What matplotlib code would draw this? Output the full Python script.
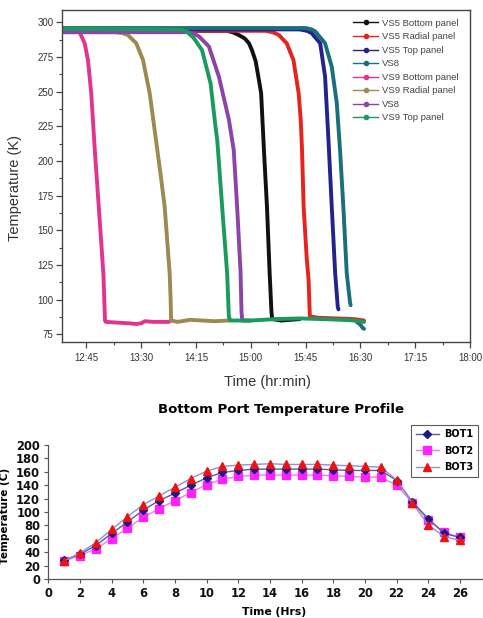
import matplotlib
matplotlib.use("Agg")
import matplotlib.pyplot as plt
import numpy as np
from matplotlib.lines import Line2D
from matplotlib.ticker import FixedLocator, FuncFormatter

# ---------------- Top chart data (time "HH:MM(.m)", temperature K) ----------------
vs5_bottom_t = ["12:25", "14:40", "14:45", "14:50", "14:55", "14:58.5", "15:01", "15:04", "15:06", "15:08.5",
                "15:10.8", "15:13.3", "15:15.5", "15:17", "15:17.6", "15:25", "15:40"]
vs5_bottom_v = [294, 294, 293, 291, 288.5, 285, 280, 272, 262, 249, 208, 167, 119, 91, 86, 85, 86]

vs5_radial_t = ["12:25", "15:12", "15:18", "15:23", "15:29.5", "15:35", "15:39.3", "15:41", "15:42", "15:43.4",
                "15:46", "15:47.5", "15:48", "15:48.5", "15:55", "16:10", "16:25", "16:33"]
vs5_radial_v = [294, 294, 293, 291, 285, 273, 249, 230, 210, 167, 129, 114, 100, 88, 87, 86.5, 86, 85]

vs5_top_t = ["12:25", "15:40", "15:46", "15:50", "15:57", "16:01", "16:03.8", "16:06.5", "16:09.3", "16:11.4", "16:12"]
vs5_top_v = [295, 295, 294, 292.3, 285, 261, 215, 167, 119, 95, 93]

vs8a_t = ["12:25", "15:45", "15:50", "15:53", "16:01", "16:06.5", "16:10.6", "16:13.3", "16:16", "16:18.8",
          "16:21.5", "16:22", "16:25", "16:27", "16:30", "16:32", "16:33"]
vs8a_v = [296, 296, 295, 293.5, 285, 268, 242, 208, 167, 119, 98, 96, np.nan, 84, 82, 79.5, 79]

vs9_bottom_t = ["12:25", "12:36", "12:39.5", "12:43.6", "12:46.3", "12:49", "12:52", "12:56.7", "12:59", "12:59.8",
                "13:00.3", "13:01", "13:10", "13:20", "13:26", "13:30", "13:33", "13:40", "13:53"]
vs9_bottom_v = [294, 294, 293, 285, 273, 249, 207, 148, 118, 98, 85, 84, 83.5, 83, 82.5, 83, 84.5, 84, 84]

vs9_radial_t = ["12:25", "13:08", "13:14", "13:19", "13:26", "13:31.5", "13:37", "13:42.5", "13:46", "13:49.3",
                "13:53.4", "13:54.2", "13:54.6", "14:00", "14:10", "14:20", "14:30", "14:42"]
vs9_radial_v = [293, 293, 292.5, 291, 285, 273, 249, 213, 190, 167, 119, 100, 85, 84, 85.5, 85, 84.5, 85]

vs8b_t = ["12:25", "14:08", "14:13", "14:17.4", "14:25.6", "14:33.8", "14:42", "14:46", "14:48.8", "14:51.6",
          "14:52.4", "14:53", "15:00"]
vs8b_v = [293, 293, 292, 290, 282.7, 261, 230, 208, 167, 120, 91, 85, 85]

vs9_top_t = ["12:25", "14:03", "14:08", "14:13", "14:20", "14:27", "14:31", "14:32.5", "14:36.5", "14:40.6",
             "14:42", "14:43", "15:00", "15:20", "15:40", "16:00", "16:15", "16:25", "16:33"]
vs9_top_v = [295.5, 295, 293, 289, 280, 256, 225, 215, 167, 119, 88, 85, 85, 86, 86.5, 86, 85.5, 85, 84]

top_labels = ["VS5 Bottom panel", "VS5 Radial panel", "VS5 Top panel", "VS8",
              "VS9 Bottom panel", "VS9 Radial panel", "VS8", "VS9 Top panel"]
top_colors = ["#111111", "#e8221e", "#23238c", "#1b6f7c",
              "#e2348f", "#9c8a52", "#8c44a8", "#1a9a5c"]
top_series_t = [vs5_bottom_t, vs5_radial_t, vs5_top_t, vs8a_t, vs9_bottom_t, vs9_radial_t, vs8b_t, vs9_top_t]
top_series_v = [vs5_bottom_v, vs5_radial_v, vs5_top_v, vs8a_v, vs9_bottom_v, vs9_radial_v, vs8b_v, vs9_top_v]

x_tick_labels = ["12:45", "13:30", "14:15", "15:00", "15:45", "16:30", "17:15", "18:00"]
y_ticks_top = [75, 100, 125, 150, 175, 200, 225, 250, 275, 300]

# ---------------- Bottom chart data ----------------
hours = list(range(1, 27))
bot1 = [28, 37, 50, 68, 85, 103, 117, 128, 140, 151, 159, 162, 164, 164, 164, 164, 164, 163, 162, 162, 162,
        147, 115, 90, 68, 62]
bot2 = [27, 35, 45, 60, 76, 92, 105, 117, 129, 141, 149, 153, 155, 155, 155, 155, 155, 154, 153, 152, 152,
        140, 114, 88, 70, 62]
bot3 = [27, 39, 54, 74, 93, 111, 124, 137, 150, 161, 168, 170, 171, 172, 171, 171, 171, 170, 169, 168, 167,
        148, 113, 81, 63, 58]
bot_labels = ["BOT1", "BOT2", "BOT3"]
bot_xticks = list(range(0, 27, 2))


def tmin(s):
    h, m = s.split(":")
    return int(h) * 60 + float(m)


def fmt_time(x, pos=None):
    h = int(x // 60)
    m = int(round(x - h * 60))
    return f"{h}:{m:02d}"


W, H = 483, 618
fig = plt.figure(figsize=(W / 100, H / 100), dpi=100)
plt.rcParams['font.family'] = ['Liberation Sans', 'DejaVu Sans']

# ================= Top chart =================
ax1 = fig.add_axes([62 / W, 1 - 342 / H, 408 / W, 332 / H])
for t, v, c in zip(top_series_t, top_series_v, top_colors):
    ax1.plot([tmin(s) for s in t], v, color=c, lw=2.8, solid_capstyle='round', solid_joinstyle='round')

ax1.set_xlim(tmin("12:25"), tmin("18:00"))
ax1.set_ylim(69.5, 309)
majors = [tmin(s) for s in x_tick_labels]
ax1.xaxis.set_major_locator(FixedLocator(majors))
ax1.xaxis.set_major_formatter(FuncFormatter(fmt_time))
minors = list(np.array(majors[:-1]) + np.diff(majors) / 2) + [majors[0] - (majors[1] - majors[0]) / 2]
ax1.xaxis.set_minor_locator(FixedLocator(minors))
ax1.yaxis.set_major_locator(FixedLocator(y_ticks_top))
ax1.yaxis.set_minor_locator(FixedLocator(list(np.array(y_ticks_top[:-1]) + 12.5)))
ax1.tick_params(which='major', direction='out', length=4, width=0.9, colors='#444444',
                labelsize=7, labelcolor='#333333', pad=2)
ax1.tick_params(which='minor', direction='out', length=2.5, width=0.8, colors='#444444')
ax1.tick_params(axis='x', pad=4)
for sp in ax1.spines.values():
    sp.set_color('#444444')
    sp.set_linewidth(1.0)

handles = [Line2D([0], [0], color=c, lw=1.0, marker='o', markersize=3, markerfacecolor=c, markeredgecolor=c)
           for c in top_colors]
leg = ax1.legend(handles, top_labels, loc='upper left', bbox_to_anchor=(0.705, 0.985), frameon=False,
                 fontsize=6.8, handlelength=2.6, handletextpad=0.4, labelspacing=0.48, borderaxespad=0)
for txt in leg.get_texts():
    txt.set_color('#444444')

fig.text(15 / W, 1 - 188 / H, "Temperature (K)", rotation=90, ha='center', va='center',
         fontsize=10.5, color='#333333')
fig.text(267 / W, 1 - 382 / H, "Time (hr:min)", ha='center', va='center', fontsize=10.5, color='#333333')

# ================= Bottom chart =================
ax2 = fig.add_axes([48.3 / W, 1 - 579 / H, 443.3 / W, 134 / H])
ax2.plot(hours, bot1, color='#5a5aaa', lw=1.0, marker='D', markersize=3.6,
         markerfacecolor='#1a1a80', markeredgecolor='#1a1a80', label=bot_labels[0], zorder=3)
ax2.plot(hours, bot2, color='#e880e8', lw=1.0, marker='s', markersize=5.2,
         markerfacecolor='#ff22ff', markeredgecolor='#ff22ff', label=bot_labels[1], zorder=2)
ax2.plot(hours, bot3, color='#9090d8', lw=1.0, marker='^', markersize=5.2,
         markerfacecolor='#ee1111', markeredgecolor='#ee1111', label=bot_labels[2], zorder=4)
ax2.set_xlim(0, 28)
ax2.set_ylim(0, 200)
ax2.set_xticks(bot_xticks + [28])
ax2.set_xticklabels([str(v) for v in bot_xticks] + [""])
ax2.set_yticks(range(0, 201, 20))
ax2.spines['top'].set_visible(False)
ax2.spines['right'].set_visible(False)
for sp in ('left', 'bottom'):
    ax2.spines[sp].set_color('#555555')
    ax2.spines[sp].set_linewidth(0.9)
ax2.tick_params(direction='out', length=3, width=0.8, colors='#555555', labelcolor='#111111', labelsize=8.3, pad=3)
for lab in ax2.get_xticklabels() + ax2.get_yticklabels():
    lab.set_fontweight('bold')
    lab.set_family('DejaVu Sans')
leg2 = ax2.legend(loc='upper left', bbox_to_anchor=(0.818, 1.152), frameon=True, fancybox=False,
                  prop={'family': 'DejaVu Sans', 'weight': 'bold', 'size': 7},
                  handlelength=2.4, handletextpad=0.5, labelspacing=0.65, borderpad=0.5, borderaxespad=0)
leg2.get_frame().set_edgecolor('#333333')
leg2.get_frame().set_linewidth(0.8)

fig.text(281 / W, 1 - 410 / H, "Bottom Port Temperature Profile", ha='center', va='center',
         fontsize=9.5, fontweight='bold', family='DejaVu Sans')
fig.text(274 / W, 1 - 612 / H, "Time (Hrs)", ha='center', va='center',
         fontsize=7.8, fontweight='bold', family='DejaVu Sans')
fig.text(5 / W, 1 - 516 / H, "Temperature (C)", rotation=90, ha='center', va='center',
         fontsize=7.5, fontweight='bold', family='DejaVu Sans')

fig.savefig("out.png", dpi=100)
